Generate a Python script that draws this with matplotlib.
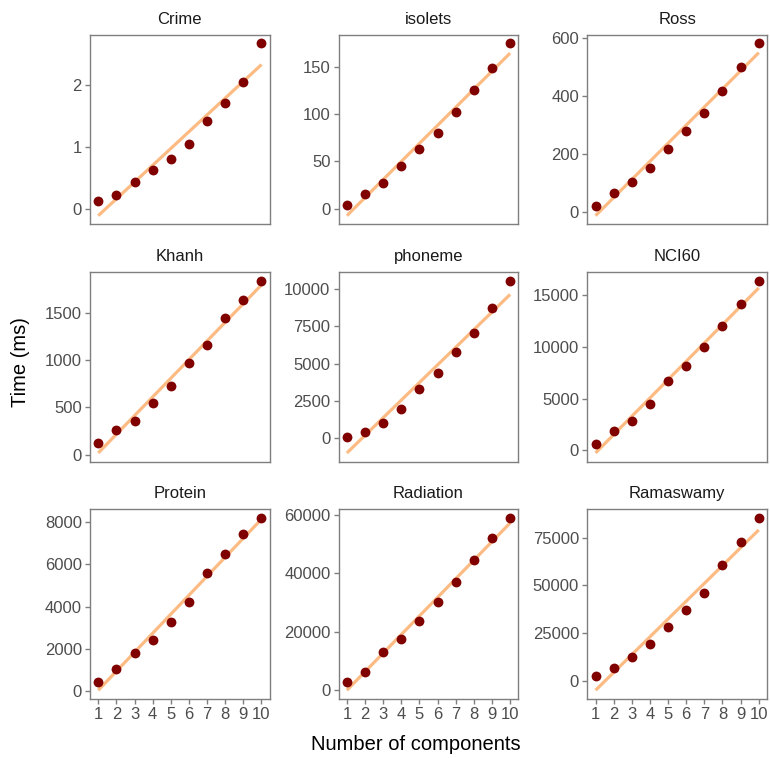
import numpy as np
import matplotlib.pyplot as plt

plt.rcParams['font.family'] = ['Liberation Sans', 'DejaVu Sans']

components = np.arange(1, 11)

datasets = ['Crime', 'isolets', 'Ross', 'Khanh', 'phoneme', 'NCI60',
            'Protein', 'Radiation', 'Ramaswamy']

crime = [0.12, 0.22, 0.43, 0.62, 0.81, 1.05, 1.42, 1.72, 2.05, 2.68]
isolets = [4, 15, 27, 45, 63, 80, 102, 126, 149, 175]
ross = [22, 65, 102, 153, 218, 280, 342, 418, 500, 580]
khanh = [125, 260, 355, 550, 730, 970, 1165, 1450, 1640, 1845]
phoneme = [100, 400, 1050, 2000, 3300, 4400, 5750, 7050, 8700, 10550]
nci60 = [600, 1850, 2850, 4500, 6750, 8200, 10000, 12000, 14200, 16400]
protein = [420, 1050, 1780, 2400, 3250, 4200, 5600, 6500, 7450, 8200]
radiation = [2700, 6000, 12800, 17500, 23500, 30200, 37200, 44700, 52000, 59000]
ramaswamy = [2400, 6800, 12300, 19400, 28000, 37400, 46000, 60500, 73000, 85300]

times = [crime, isolets, ross, khanh, phoneme, nci60, protein, radiation, ramaswamy]

yticks = [
    [0, 1, 2],
    [0, 50, 100, 150],
    [0, 200, 400, 600],
    [0, 500, 1000, 1500],
    [0, 2500, 5000, 7500, 10000],
    [0, 5000, 10000, 15000],
    [0, 2000, 4000, 6000, 8000],
    [0, 20000, 40000, 60000],
    [0, 25000, 50000, 75000],
]

point_col = '#800000'
line_col = '#FDBB84'
frame_col = '#7f7f7f'

fig, axes = plt.subplots(3, 3, figsize=(7.7, 7.58), dpi=100)
fig.subplots_adjust(left=0.117, right=0.996, top=0.954, bottom=0.078,
                    wspace=0.385, hspace=0.253)

for i, ax in enumerate(axes.flat):
    y = np.array(times[i], dtype=float)
    slope, icpt = np.polyfit(components, y, 1)
    fit = slope * components + icpt

    ax.plot(components, fit, color=line_col, lw=2.3, zorder=1,
            solid_capstyle='butt')
    ax.scatter(components, y, s=50, color=point_col, zorder=2, lw=0)

    lo = min(y.min(), fit.min())
    hi = max(y.max(), fit.max())
    pad = (hi - lo) * 0.05
    ax.set_ylim(lo - pad, hi + pad)
    ax.set_xlim(0.55, 10.45)
    ax.set_yticks(yticks[i])
    ax.set_yticklabels([str(t) for t in yticks[i]])

    ax.set_title(datasets[i], fontsize=12, color='#1a1a1a', pad=8)
    for sp in ax.spines.values():
        sp.set_color(frame_col)
        sp.set_linewidth(1.0)
    ax.tick_params(colors=frame_col, labelcolor='#4d4d4d', labelsize=12,
                   length=3.5, width=1.0, pad=2.5)
    if i < 6:
        ax.set_xticks([])
    else:
        ax.set_xticks(components)
        ax.tick_params(axis='x', pad=2)

fig.text(0.54, 0.018, 'Number of components', ha='center', va='center',
         fontsize=14.5, color='black')
fig.text(0.026, 0.522, 'Time (ms)', ha='center', va='center', rotation=90,
         fontsize=14.5, color='black')

fig.savefig('out.png', dpi=100)
